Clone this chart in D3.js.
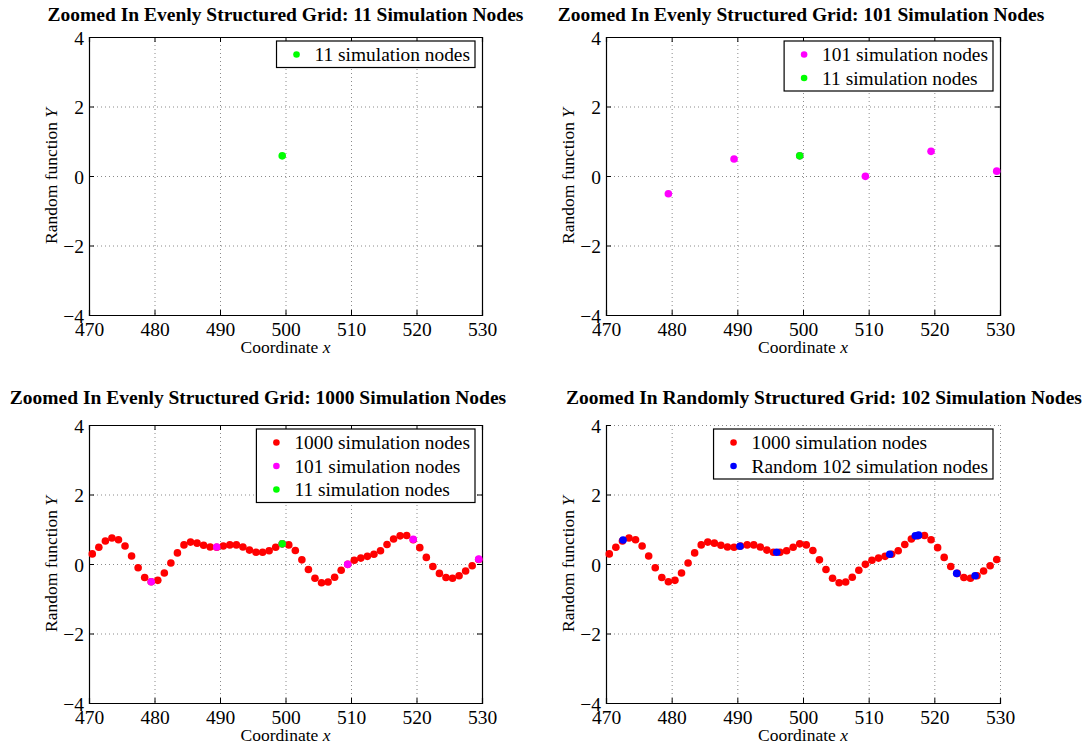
<!DOCTYPE html>
<html lang="en">
<head>
<meta charset="UTF-8">
<script type="text/javascript" src="https://d3js.org/d3.v7.min.js"></script>
<title>Zoomed grids</title>
<style>
  body { margin: 0; background: #fff; }
  text { font-family: "Liberation Serif", "Times New Roman", serif; fill: #000; }
</style>
</head>
<body>
<svg id="plot"></svg>
<script type="text/javascript">
// 1000-node grid, zoomed window 470..530
var fineX = d3.range(60).map(i => 470.5 + i);
var fineY = [0.29, 0.48, 0.66, 0.75, 0.70, 0.52, 0.23, -0.11, -0.39, -0.51,
             -0.47, -0.26, 0.03, 0.32, 0.55, 0.63, 0.60, 0.54, 0.49, 0.48,
             0.52, 0.55, 0.55, 0.49, 0.40, 0.34, 0.34, 0.38, 0.48, 0.58,
             0.55, 0.39, 0.12, -0.16, -0.41, -0.54, -0.52, -0.38, -0.18, -0.01,
             0.11, 0.17, 0.22, 0.28, 0.38, 0.56, 0.72, 0.81, 0.82, 0.70,
             0.47, 0.19, -0.07, -0.27, -0.39, -0.41, -0.34, -0.20, -0.05, 0.13];
// 101-node grid
var midX = [479.5, 489.5, 499.5, 509.5, 519.5, 529.5];
var midY = [-0.51, 0.49, 0.58, -0.01, 0.71, 0.14];
// 11-node grid
var coarseX = [499.5];
var coarseY = [0.58];
// random 102-node grid
var randX = [472.6, 490.4, 496.0, 513.2, 517.1, 517.6, 523.4, 526.2];
var randY = [0.69, 0.51, 0.34, 0.28, 0.81, 0.83, -0.27, -0.34];

var xTicks = [470, 480, 490, 500, 510, 520, 530];
var yTicks = [-4, -2, 0, 2, 4];

const width = 1086, height = 747;
const svg = d3.select("#plot").attr("width", width).attr("height", height);

const zip = (xs, ys) => xs.map((x, i) => [x, ys[i]]);
const fine = {name: "1000 simulation nodes", color: "#ff0000", pts: zip(fineX, fineY)};
const mid = {name: "101 simulation nodes", color: "#ff00ff", pts: zip(midX, midY)};
const coarse = {name: "11 simulation nodes", color: "#00ff00", pts: zip(coarseX, coarseY)};
const rand = {name: "Random 102 simulation nodes", color: "#0000ff", pts: zip(randX, randY)};

const panels = [
  {title: "Zoomed In Evenly Structured Grid: 11 Simulation Nodes", x0: 89, x1: 482, y0: 37, y1: 315, tc: 285.5, ty: 21,
   series: [coarse], legend: [coarse], box: true},
  {title: "Zoomed In Evenly Structured Grid: 101 Simulation Nodes", x0: 606, x1: 1000, y0: 37, y1: 315, tc: 801, ty: 21,
   series: [mid, coarse], legend: [mid, coarse], box: true},
  {title: "Zoomed In Evenly Structured Grid: 1000 Simulation Nodes", x0: 89, x1: 482, y0: 425, y1: 703, tc: 258, ty: 404,
   series: [fine, mid, coarse], legend: [fine, mid, coarse], box: true},
  {title: "Zoomed In Randomly Structured Grid: 102 Simulation Nodes", x0: 606, x1: 1000, y0: 425, y1: 703, tc: 824, ty: 404,
   series: [fine, rand], legend: [fine, rand], box: false}
];

panels.forEach(drawPanel);

function drawPanel(p) {
  const g = svg.append("g");
  const x = d3.scaleLinear().domain([470, 530]).range([p.x0, p.x1]);
  const y = d3.scaleLinear().domain([-4, 4]).range([p.y1, p.y0]);

  // dotted grid
  const grid = g.append("g").attr("stroke", "#8a8a8a").attr("stroke-width", 1)
    .attr("stroke-dasharray", "1,3").attr("fill", "none");
  grid.selectAll("line.gx").data(xTicks.slice(1, p.box ? -1 : undefined)).enter().append("line")
    .attr("x1", d => x(d) + 0.5).attr("x2", d => x(d) + 0.5).attr("y1", p.y0).attr("y2", p.y1);
  grid.selectAll("line.gy").data(yTicks.slice(1, p.box ? -1 : undefined)).enter().append("line")
    .attr("y1", d => y(d) + 0.5).attr("y2", d => y(d) + 0.5).attr("x1", p.x0).attr("x2", p.x1);

  // axes (ticks inward, MATLAB style)
  const ax = d3.axisBottom(x).tickValues(xTicks).tickSize(-5).tickPadding(7).tickFormat(d3.format("d"));
  const ay = d3.axisLeft(y).tickValues(yTicks).tickSize(-5).tickPadding(5).tickFormat(d => d < 0 ? "\u2212" + Math.abs(d) : d);
  const gx = g.append("g").attr("transform", `translate(0,${p.y1})`).call(ax);
  const gy = g.append("g").attr("transform", `translate(${p.x0},0)`).call(ay);
  [gx, gy].forEach(a => {
    a.select(".domain").attr("stroke", "#000").attr("stroke-width", 1.2);
    a.selectAll(".tick line").attr("stroke", "#000");
    a.selectAll("text").style("font-family", "Liberation Serif").style("font-size", "19.5px").attr("fill", "#000");
  });
  gy.selectAll(".tick text").attr("dy", "0.36em");
  if (p.box) {
    g.append("g").attr("transform", `translate(0,${p.y0})`)
      .call(d3.axisTop(x).tickValues(xTicks).tickSize(-5).tickFormat(""))
      .call(a => a.select(".domain").attr("stroke-width", 1.2));
    g.append("g").attr("transform", `translate(${p.x1},0)`)
      .call(d3.axisRight(y).tickValues(yTicks).tickSize(-5).tickFormat(""))
      .call(a => a.select(".domain").attr("stroke-width", 1.2));
  }

  // points
  p.series.forEach(s => {
    g.append("g").selectAll("circle").data(s.pts).enter().append("circle")
      .attr("cx", d => x(d[0])).attr("cy", d => y(d[1])).attr("r", 3.8).attr("fill", s.color);
  });

  // title and labels
  g.append("text").attr("x", p.tc).attr("y", p.ty).attr("text-anchor", "middle")
    .style("font-size", "19.5px").style("font-weight", "bold").text(p.title);
  const xl = g.append("text").attr("x", (p.x0 + p.x1) / 2).attr("y", p.y1 + 38).attr("text-anchor", "middle")
    .style("font-size", "17.5px");
  xl.append("tspan").text("Coordinate ");
  xl.append("tspan").style("font-style", "italic").text("x");
  const yl = g.append("text").attr("transform", `translate(${p.x0 - 32},${(p.y0 + p.y1) / 2}) rotate(-90)`)
    .attr("text-anchor", "middle").style("font-size", "17.5px");
  yl.append("tspan").text("Random function ");
  yl.append("tspan").style("font-style", "italic").text("Y");

  // legend
  const lg = g.append("g");
  const rowH = 23.5;
  const box = lg.append("rect").attr("fill", "#fff").attr("stroke", "#000").attr("stroke-width", 1.2);
  let maxW = 0;
  p.legend.forEach((s, i) => {
    lg.append("circle").attr("cx", 20).attr("cy", 13.5 + i * rowH).attr("r", 3.3).attr("fill", s.color);
    const t = lg.append("text").attr("x", 38).attr("y", 13.5 + i * rowH).attr("dy", "0.34em")
      .style("font-size", "19.4px").text(s.name);
    maxW = Math.max(maxW, t.node().getComputedTextLength());
  });
  const bw = 38 + maxW + 5, bh = p.legend.length * rowH + 3;
  box.attr("width", bw).attr("height", bh);
  lg.attr("transform", `translate(${p.x1 - 7 - bw},${p.y0 + 4})`);
}
</script>
</body>
</html>
